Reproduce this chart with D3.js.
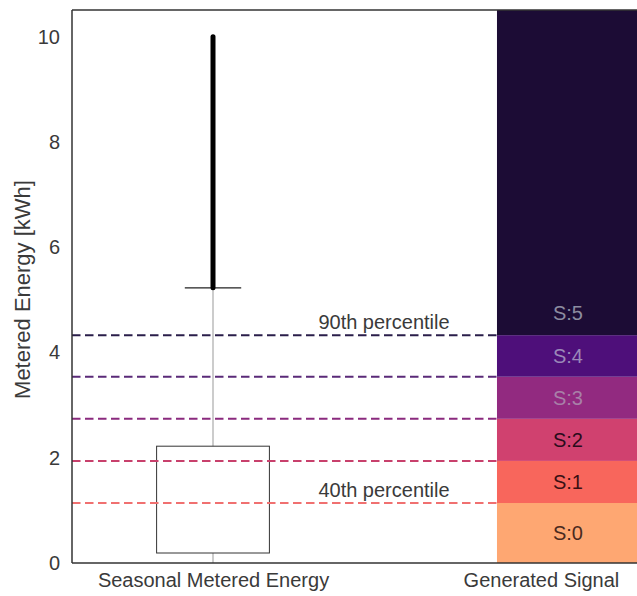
<!DOCTYPE html>
<html><head><meta charset="utf-8">
<script src="https://cdn.jsdelivr.net/npm/d3@7"></script>
<style>body{margin:0;background:#fff}text{font-family:"Liberation Sans",Arial,sans-serif}</style>
</head><body><div id="c"></div>
<script>
// Data
const categories = ["Seasonal Metered Energy", "Generated Signal"];
const categoryPos = [0, 1];
const yTicks = [0, 2, 4, 6, 8, 10];
const boxStats = {q1: 0.19, q3: 2.22, whiskerLow: 0.0, whiskerHigh: 5.23};
const outlierRange = [5.23, 10.0];
const thresholds = [1.14, 1.94, 2.74, 3.54, 4.33];
const signalLabels = ["S:0", "S:1", "S:2", "S:3", "S:4", "S:5"];
const signalLabelValues = [0.57, 1.54, 2.34, 3.14, 3.94, 4.75];
const percentileLabels = [{text: "40th percentile", value: 1.14}, {text: "90th percentile", value: 4.33}];
const bandColors = ["#fea772", "#f8665c", "#d0416f", "#922a80", "#4e0f7a", "#1c0c35"];
const lineColors = ["#f07070", "#c8406c", "#8a2a7e", "#5a2a78", "#2a1e4a"];
const labelColors = ["#4a2a20", "#3a1014", "#2a0c1c", "#a880a8", "#9a88b8", "#8c8ca0"];

const W = 637, H = 596;
const m = {l: 72, r: 0, t: 10, b: 33};
const svg = d3.select("#c").append("svg").attr("width", W).attr("height", H);
const y = d3.scaleLinear().domain([0, 10.51]).range([H - m.b, m.t]);
const x = d3.scaleLinear().domain([-0.43, 1.293]).range([m.l, W]);
const boxHalf = 0.172, bandStart = 0.866;

// Signal bands
const bounds = [0, ...thresholds, 10.51];
const bx0 = x(bandStart), bx1 = x(x.domain()[1]);
svg.selectAll("rect.band").data(bandColors).enter().append("rect")
  .attr("x", bx0).attr("width", bx1 - bx0)
  .attr("y", (d, i) => y(bounds[i + 1])).attr("height", (d, i) => y(bounds[i]) - y(bounds[i + 1]))
  .attr("fill", d => d);
svg.selectAll("text.sig").data(signalLabels).enter().append("text")
  .attr("x", (bx0 + bx1) / 2 + 1).attr("y", (d, i) => y(signalLabelValues[i]))
  .attr("dy", "0.36em").attr("text-anchor", "middle").attr("font-size", 20)
  .attr("fill", (d, i) => labelColors[i]).text(d => d);

// Whisker line
const cx = x(categoryPos[0]);
svg.append("line").attr("x1", cx).attr("x2", cx).attr("y1", y(boxStats.whiskerLow)).attr("y2", y(boxStats.whiskerHigh))
  .attr("stroke", "#999").attr("stroke-width", 1);
// Box
svg.append("rect").attr("x", x(categoryPos[0] - boxHalf)).attr("width", x(boxHalf) - x(-boxHalf))
  .attr("y", y(boxStats.q3)).attr("height", y(boxStats.q1) - y(boxStats.q3))
  .attr("fill", "#fff").attr("stroke", "#333").attr("stroke-width", 1);
// Cap
svg.append("line").attr("x1", x(categoryPos[0] - boxHalf / 2)).attr("x2", x(categoryPos[0] + boxHalf / 2))
  .attr("y1", y(boxStats.whiskerHigh)).attr("y2", y(boxStats.whiskerHigh))
  .attr("stroke", "#222").attr("stroke-width", 1.2);
// Outliers
svg.append("line").attr("x1", cx).attr("x2", cx).attr("y1", y(outlierRange[0])).attr("y2", y(outlierRange[1]))
  .attr("stroke", "#000").attr("stroke-width", 5).attr("stroke-linecap", "round");

// Threshold dashed lines
svg.selectAll("line.th").data(thresholds).enter().append("line")
  .attr("x1", m.l).attr("x2", bx0)
  .attr("y1", d => y(d)).attr("y2", d => y(d))
  .attr("stroke", (d, i) => lineColors[i]).attr("stroke-width", 2).attr("stroke-dasharray", "8.5,4.5");
svg.selectAll("text.pc").data(percentileLabels).enter().append("text")
  .attr("x", 384).attr("y", d => y(d.value) - 6).attr("text-anchor", "middle")
  .attr("font-size", 20).attr("fill", "#3a3a3a").text(d => d.text);

// Spines
svg.append("line").attr("x1", m.l).attr("x2", m.l).attr("y1", m.t).attr("y2", H - m.b).attr("stroke", "#333").attr("stroke-width", 1.5);
svg.append("line").attr("x1", m.l).attr("x2", W).attr("y1", H - m.b).attr("y2", H - m.b).attr("stroke", "#333").attr("stroke-width", 1.5);
svg.append("line").attr("x1", m.l).attr("x2", W).attr("y1", m.t).attr("y2", m.t).attr("stroke", "#333").attr("stroke-width", 1.5);

const yAxis = svg.append("g").attr("transform", `translate(${m.l},0)`)
  .call(d3.axisLeft(y).tickValues(yTicks).tickSize(0).tickPadding(12));
yAxis.select(".domain").remove();
yAxis.selectAll("text").attr("font-size", 20).attr("fill", "#3a3a3a").style("font-family", "Liberation Sans, Arial, sans-serif");

const xAxis = svg.append("g").attr("transform", `translate(0,${H - m.b})`)
  .call(d3.axisBottom(x).tickValues(categoryPos).tickFormat((d, i) => categories[i]).tickSize(0).tickPadding(10));
xAxis.select(".domain").remove();
xAxis.selectAll("text").attr("font-size", 20).attr("fill", "#3a3a3a").style("font-family", "Liberation Sans, Arial, sans-serif");

svg.append("text").attr("transform", `translate(30,${(m.t + H - m.b) / 2 + 3}) rotate(-90)`)
  .attr("text-anchor", "middle").attr("font-size", 22).attr("fill", "#3a3a3a").text("Metered Energy [kWh]");
</script></body></html>
